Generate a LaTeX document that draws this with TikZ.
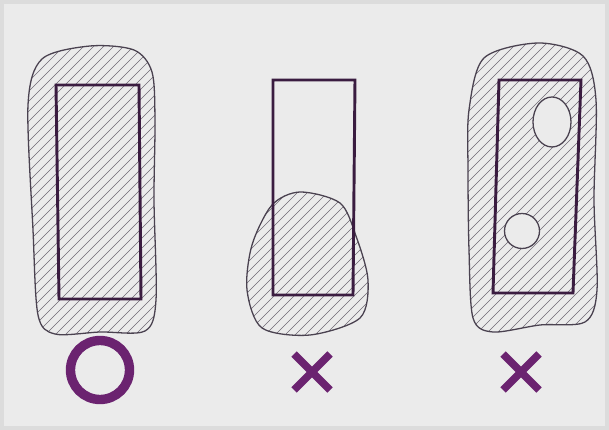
\documentclass[tikz,border=0pt]{standalone}
\usepackage{tikz}
\usetikzlibrary{calc}
\definecolor{Paper}{HTML}{EBEBEB}
\definecolor{Frame}{HTML}{DCDCDC}
\definecolor{Ink}{HTML}{4A4250}
\definecolor{Plum}{HTML}{3A1C40}
\definecolor{Mark}{HTML}{6B2370}
\tikzset{
  blob/.style={draw=Ink,line width=1.1pt},
  hatch/.style={draw=Ink!80,line width=0.5pt},
  part/.style={draw=Plum,line width=2.5pt,line join=miter},
  hole/.style={draw=Ink,line width=1.1pt,fill=Paper},
  good/.style={draw=Mark,line width=8pt},
  bad/.style={draw=Mark,line width=6.6pt}
}
\newcommand\leftblob{plot[smooth cycle] coordinates {(28,105) (42,59) (90,46) (134,50) (152,72) (155,120) (154,200) (156,300) (145,331) (100,332) (55,334) (38,315) (33,230)}}
\newcommand\midblob{plot[smooth cycle] coordinates {(300,192) (340,203) (356,236) (368,280) (360,318) (310,335) (262,328) (247,290) (252,245) (272,205)}}
\newcommand\rightblob{plot[smooth cycle] coordinates {(469,110) (484,58) (538,43) (583,56) (596,100) (594,200) (597,290) (585,322) (540,325) (493,332) (473,318) (469,250) (468,170)}}

\begin{document}
\begin{tikzpicture}[x=0.03cm,y=-0.03cm]
  \fill[Frame] (0,0) rectangle (609,430);
  \fill[Paper] (4,4) rectangle (605,426);
  \useasboundingbox (0,0) rectangle (609,430);

  \begin{scope}
    \clip \leftblob;
    \foreach \i in {-440,-430,...,200}
      \draw[hatch] (\i,430) -- ++(430,-430);
  \end{scope}
  \draw[blob] \leftblob;
  \draw[part] (56,85) -- (139,85) -- (141,299) -- (59,299) -- cycle;
  \draw[good] (100,370) circle (29.5);

  \begin{scope}
    \clip \midblob;
    \foreach \i in {-200,-190,...,400}
      \draw[hatch] (\i,430) -- ++(430,-430);
  \end{scope}
  \draw[blob] \midblob;
  \draw[part] (273,80) -- (355,80) -- (353,295) -- (273,295) -- cycle;
  \draw[bad] (294,354) -- (330,390) (294,390) -- (330,354);

  \begin{scope}
    \clip \rightblob;
    \foreach \i in {40,50,...,620}
      \draw[hatch] (\i,430) -- ++(430,-430);
  \end{scope}
  \draw[blob] \rightblob;
  \draw[hole] (552,122) ellipse (19 and 25);
  \draw[hole] (522,231) circle (17.5);
  \draw[part] (499,80) -- (581,80) -- (573,293) -- (493,293) -- cycle;
  \draw[bad] (503,354) -- (539,390) (503,390) -- (539,354);
\end{tikzpicture}
\end{document}
